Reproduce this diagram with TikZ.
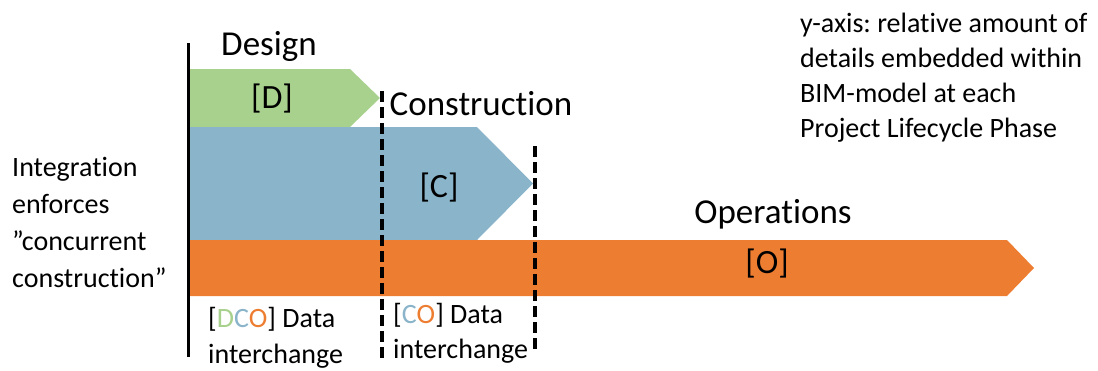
\documentclass[tikz,border=0pt]{standalone}
\usepackage{fontspec}
\setmainfont{Carlito}[Ligatures=NoCommon]
\frenchspacing
\definecolor{dgreen}{HTML}{A9D18E}
\definecolor{cblue}{HTML}{8AB4C9}
\definecolor{oorange}{HTML}{ED7D31}
\tikzset{
  lbl/.style={inner sep=0pt, anchor=base, font=\fontsize{34}{40}\selectfont},
  head/.style={inner sep=0pt, anchor=base, font=\fontsize{35}{42}\selectfont},
  note/.style={inner sep=0pt, anchor=base west, align=left},
  gate/.style={line width=3.3pt, dash pattern=on 11pt off 5pt},
  axisline/.style={line width=3pt},
}
\begin{document}
\begin{tikzpicture}[x=1pt,y=-1pt]
\useasboundingbox (0,0) rectangle (1098,370);

% phase arrows (level of detail per phase)
\fill[dgreen] (189,69) -- (350,69) -- (380,98) -- (350,127) -- (189,127) -- cycle;
\fill[cblue] (189,127) -- (477,127) -- (533,183.5) -- (477,240) -- (189,240) -- cycle;
\fill[oorange] (189,240) -- (1007,240) -- (1034,268) -- (1007,296) -- (189,296) -- cycle;

% y-axis
\coordinate (ytop) at (188,43);
\coordinate (ybot) at (188,357);
\draw[axisline] (ytop) -- (ybot);

% phase boundaries
\coordinate (g1top) at (382,91);
\coordinate (g1bot) at (382,358);
\coordinate (g2top) at (535,146);
\coordinate (g2bot) at (535,352);
\draw[gate] (g1top) -- (g1bot);
\draw[gate] (g2top) -- (g2bot);

% phase titles
\node[head] (design) at (269,55) {Design};
\node[head] (constr) at (481,115) {Construction};
\node[head] (ops) at (773,223) {Operations};

% phase labels
\node[lbl] (dl) at (272,108) {[D]};
\node[lbl] (cl) at (439,197) {[C]};
\node[lbl] (ol) at (767,273) {[O]};

% notes (anchored at the baseline of their last line)
\node[note, font=\fontsize{28}{36.7}\selectfont] (integ) at (12,287)
  {Integration\\enforces\\”concurrent\\construction”};
\node[note, font=\fontsize{28}{34.7}\selectfont] (yaxis) at (800,137)
  {y-axis: relative amount of\\details embedded within\\BIM-model at each\\Project Lifecycle Phase};
\node[note, font=\fontsize{28}{36}\selectfont] (dco) at (208,363)
  {[\textcolor{dgreen}{D}\textcolor{cblue}{C}\textcolor{oorange}{O}] Data\\interchange};
\node[note, font=\fontsize{28}{35}\selectfont] (co) at (393,358)
  {[\textcolor{cblue}{C}\textcolor{oorange}{O}] Data\\interchange};
\end{tikzpicture}
\end{document}
